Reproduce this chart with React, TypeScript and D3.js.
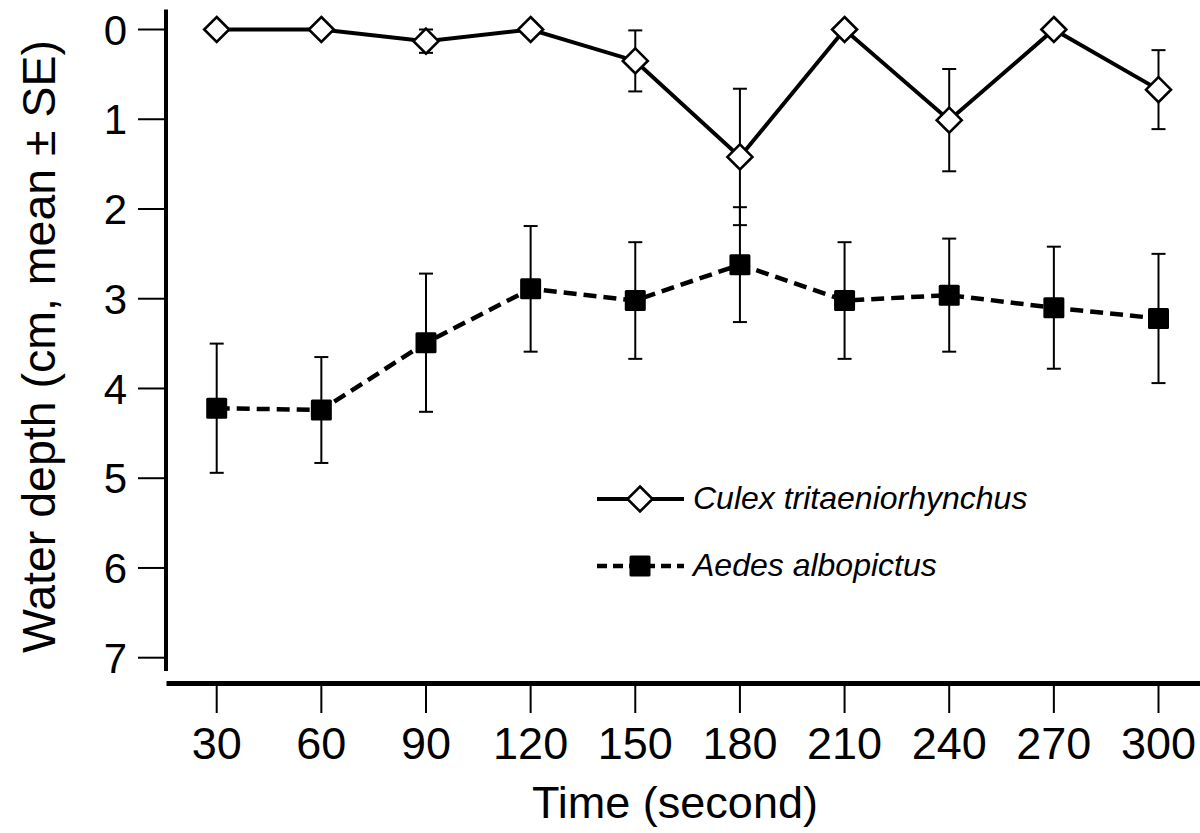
import React from "react";
import * as d3 from "d3";

// time points (s)
const times = [30, 60, 90, 120, 150, 180, 210, 240, 270, 300];
const yTicks = [0, 1, 2, 3, 4, 5, 6, 7];

// Culex tritaeniorhynchus
const culexMean = [0, 0, 0.13, 0, 0.35, 1.42, 0, 1.01, 0, 0.67];
const culexSE = [0, 0, 0.13, 0, 0.34, 0.76, 0, 0.57, 0, 0.44];

// Aedes albopictus
const aedesMean = [4.22, 4.24, 3.49, 2.89, 3.02, 2.62, 3.02, 2.96, 3.1, 3.22];
const aedesSE = [0.72, 0.59, 0.77, 0.7, 0.65, 0.64, 0.65, 0.63, 0.68, 0.72];

const FONT = "'Liberation Sans', Arial, sans-serif";

const App = () => {
    const width = 1200;
    const height = 833;

    const x = d3.scaleLinear().domain([30, 300]).range([216.7, 1158.5]);
    const y = d3.scaleLinear().domain([0, 7]).range([29.5, 657.7]);

    const line = d3
        .line<number>()
        .x((_, i) => x(times[i]))
        .y((d) => y(d));

    const errorBars = (means: number[], ses: number[], key: string) =>
        means.map((m, i) =>
            ses[i] > 0 ? (
                <g key={key + i} stroke="#000" strokeWidth={2}>
                    <line x1={x(times[i])} x2={x(times[i])} y1={y(m - ses[i])} y2={y(m + ses[i])} />
                    <line x1={x(times[i]) - 7} x2={x(times[i]) + 7} y1={y(m - ses[i])} y2={y(m - ses[i])} />
                    <line x1={x(times[i]) - 7} x2={x(times[i]) + 7} y1={y(m + ses[i])} y2={y(m + ses[i])} />
                </g>
            ) : null
        );

    const diamond = (cx: number, cy: number, key: string) => (
        <path
            key={key}
            d={`M${cx},${cy - 12.5}L${cx + 12.5},${cy}L${cx},${cy + 12.5}L${cx - 12.5},${cy}Z`}
            fill="#fff"
            stroke="#000"
            strokeWidth={2.6}
        />
    );

    const square = (cx: number, cy: number, key: string) => (
        <rect key={key} x={cx - 10.5} y={cy - 10.5} width={21} height={21} rx={1.5} fill="#000" />
    );

    return (
        <svg
            width={width}
            height={height}
            style={{ position: "absolute", left: 0, top: 0, background: "#fff" }}
        >
            {/* y axis */}
            <line x1={166} x2={166} y1={9.5} y2={671} stroke="#000" strokeWidth={4} />
            {yTicks.map((t) => (
                <g key={"yt" + t}>
                    <line x1={138} x2={166} y1={y(t)} y2={y(t)} stroke="#000" strokeWidth={2} />
                    <text
                        x={127}
                        y={y(t)}
                        dy="0.36em"
                        textAnchor="end"
                        fontFamily={FONT}
                        fontSize={42}
                    >
                        {t}
                    </text>
                </g>
            ))}
            <text
                transform="translate(55,346.5) rotate(-90)"
                textAnchor="middle"
                fontFamily={FONT}
                fontSize={46.5}
            >
                Water depth (cm, mean ± SE)
            </text>

            {/* x axis */}
            <line x1={166.5} x2={1200} y1={683.5} y2={683.5} stroke="#000" strokeWidth={5} />
            {times.map((t) => (
                <g key={"xt" + t}>
                    <line x1={x(t)} x2={x(t)} y1={686} y2={713} stroke="#000" strokeWidth={2} />
                    <text x={x(t)} y={759} textAnchor="middle" fontFamily={FONT} fontSize={45}>
                        {t}
                    </text>
                </g>
            ))}
            <text x={675} y={818} textAnchor="middle" fontFamily={FONT} fontSize={45}>
                Time (second)
            </text>

            {/* Aedes albopictus */}
            {errorBars(aedesMean, aedesSE, "ae")}
            <path
                d={line(aedesMean) || ""}
                fill="none"
                stroke="#000"
                strokeWidth={4.5}
                strokeDasharray="13,7"
            />
            {aedesMean.map((m, i) => square(x(times[i]), y(m), "aq" + i))}

            {/* Culex tritaeniorhynchus */}
            {errorBars(culexMean, culexSE, "ce")}
            <path d={line(culexMean) || ""} fill="none" stroke="#000" strokeWidth={4} />
            {culexMean.map((m, i) => diamond(x(times[i]), y(m), "cd" + i))}

            {/* legend */}
            <line x1={597} x2={684} y1={499} y2={499} stroke="#000" strokeWidth={4} />
            {diamond(640, 499, "lg1")}
            <text x={693} y={509} fontFamily={FONT} fontSize={32} fontStyle="italic">
                Culex tritaeniorhynchus
            </text>
            <line
                x1={597}
                x2={684}
                y1={566}
                y2={566}
                stroke="#000"
                strokeWidth={4.5}
                strokeDasharray="10,6"
            />
            {square(640, 566, "lg2")}
            <text x={693} y={576} fontFamily={FONT} fontSize={32} fontStyle="italic">
                Aedes albopictus
            </text>
        </svg>
    );
};

export default App;
